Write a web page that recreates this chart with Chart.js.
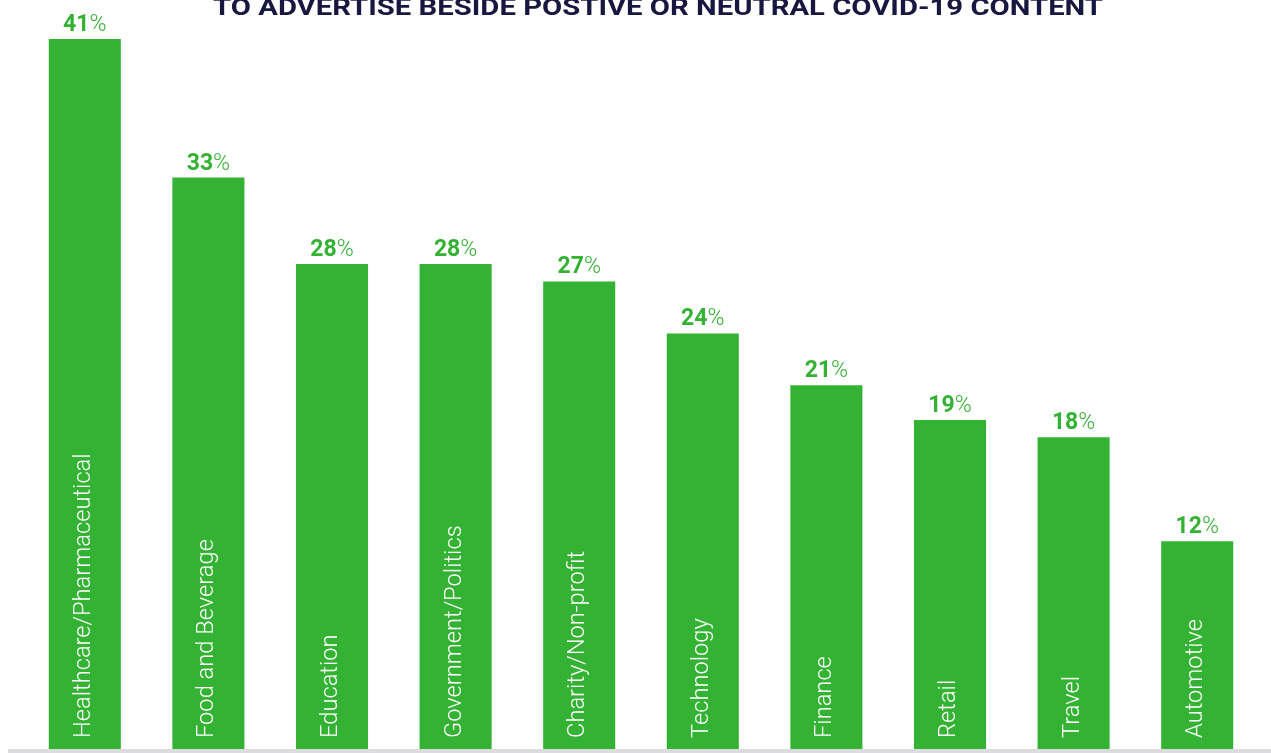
<!DOCTYPE html>
<html>
<head>
<meta charset="utf-8">
<script src="https://cdn.jsdelivr.net/npm/chart.js@4"></script>
<style>
  html, body { margin: 0; padding: 0; background: #fff; overflow: hidden; }
  #wrap { width: 1271px; height: 753px; position: relative; }
</style>
</head>
<body>
<div id="wrap"><canvas id="myChart" width="1271" height="753"></canvas></div>
<script>
'use strict';

var titleText = 'TO ADVERTISE BESIDE POSTIVE OR NEUTRAL COVID-19 CONTENT';
var categories = ['Healthcare/Pharmaceutical', 'Food and Beverage', 'Education', 'Government/Politics',
  'Charity/Non-profit', 'Technology', 'Finance', 'Retail', 'Travel', 'Automotive'];
var shares = [41, 33, 28, 28, 27, 24, 21, 19, 18, 12];

var green = '#34b233';

// labels, title and base line
var decorPlugin = {
  id: 'decor',
  afterDatasetsDraw: function (chart) {
    var ctx = chart.ctx;
    var meta = chart.getDatasetMeta(0);
    ctx.save();

    // category names inside bars
    ctx.fillStyle = '#ffffff';
    ctx.font = '300 23.7px Roboto';
    ctx.textAlign = 'left';
    ctx.textBaseline = 'middle';
    meta.data.forEach(function (bar, i) {
      ctx.save();
      ctx.translate(bar.x - 1, chart.chartArea.bottom - 11);
      ctx.rotate(-Math.PI / 2);
      ctx.fillText(categories[i], 0, 0);
      ctx.restore();
    });

    // value labels
    ctx.textBaseline = 'alphabetic';
    meta.data.forEach(function (bar, i) {
      var num = String(shares[i]);
      ctx.font = 'bold 23px Roboto';
      var w1 = ctx.measureText(num).width;
      ctx.font = '300 23px Roboto';
      var w2 = ctx.measureText('%').width;
      var x0 = bar.x - (w1 + w2) / 2;
      var y = bar.y - 8;
      ctx.fillStyle = green;
      ctx.font = 'bold 23px Roboto';
      ctx.fillText(num, x0, y);
      ctx.font = '300 23px Roboto';
      ctx.fillText('%', x0 + w1, y);
    });

    // title (cut at top)
    ctx.fillStyle = '#17173f';
    ctx.font = 'bold 22px Roboto';
    var tw = ctx.measureText(titleText).width;
    ctx.save();
    ctx.translate(658, 15);
    ctx.scale(890 / tw, 1.05);
    ctx.textAlign = 'center';
    ctx.fillText(titleText, 0, 0);
    ctx.restore();

    // base line
    ctx.fillStyle = '#dcdcdf';
    ctx.fillRect(8, chart.chartArea.bottom, chart.width - 8, 4);
    ctx.restore();
  }
};

var ctx = document.getElementById('myChart').getContext('2d');
var chart = new Chart(ctx, {
  type: 'bar',
  data: {
    labels: categories,
    datasets: [{
      data: shares,
      backgroundColor: green,
      borderWidth: 0,
      categoryPercentage: 1,
      barPercentage: 0.583
    }]
  },
  options: {
    responsive: false,
    animation: false,
    layout: { padding: { left: 23, right: 12, top: 39, bottom: 4 } },
    plugins: { legend: { display: false }, tooltip: { enabled: false } },
    scales: {
      x: { display: false },
      y: { display: false, min: 0, max: 41 }
    }
  },
  plugins: [decorPlugin]
});
</script>
</body>
</html>
